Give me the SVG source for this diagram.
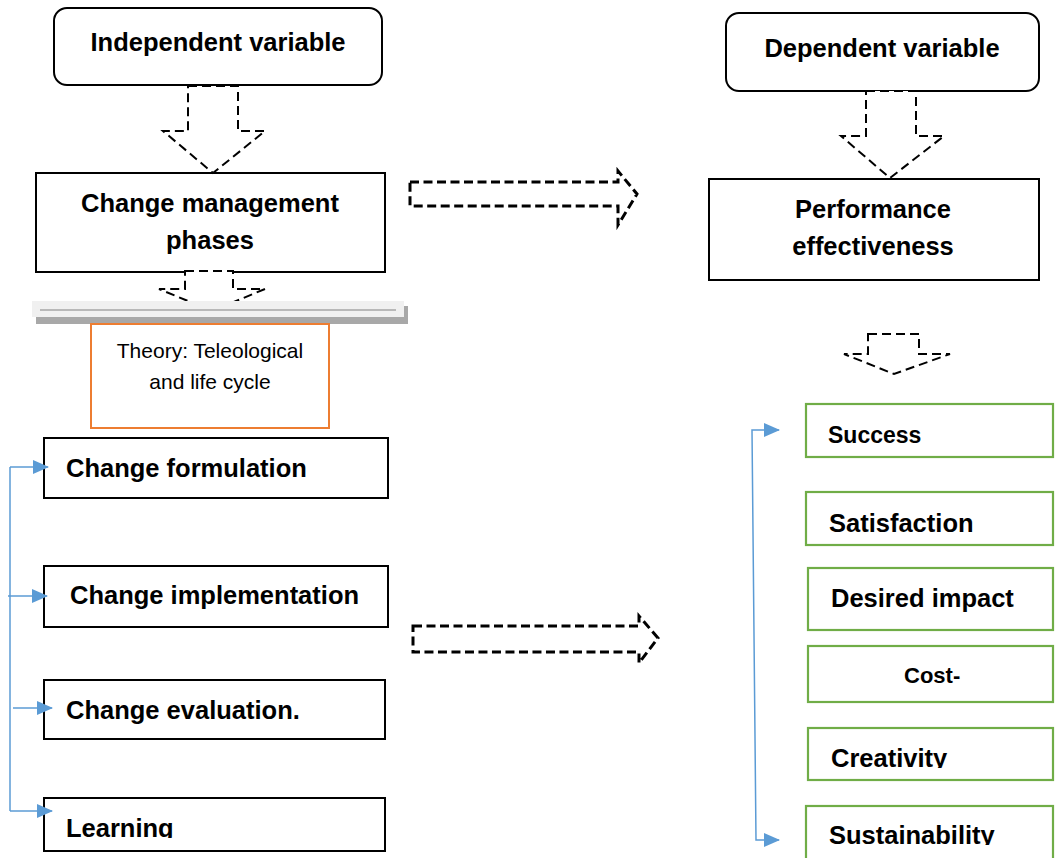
<svg xmlns="http://www.w3.org/2000/svg" width="1056" height="858" viewBox="0 0 1056 858">
<style>
  .box{fill:#fff;stroke:#000;stroke-width:2}
  .gbox{fill:#fff;stroke:#70AD47;stroke-width:2.2}
  .obox{fill:#fff;stroke:#ED7D31;stroke-width:2}
  .lbl{font-family:"Liberation Sans",Arial,sans-serif;font-weight:bold;font-size:25.5px;fill:#000}
  .reg{font-family:"Liberation Sans",Arial,sans-serif;font-size:21px;fill:#000}
  .dv{fill:#fff;stroke:#000;stroke-width:2;stroke-dasharray:9 5}
  .dh{fill:#fff;stroke:#000;stroke-width:3;stroke-dasharray:9 4.5}
  .blue{fill:none;stroke:#5B9BD5;stroke-width:1.5}
</style>
<defs>
  <marker id="tri" viewBox="0 0 16 14" refX="15" refY="7" markerWidth="16" markerHeight="14" markerUnits="userSpaceOnUse" orient="auto-start-reverse">
    <path d="M0,0 L16,7 L0,14 z" fill="#5B9BD5"/>
  </marker>
  <clipPath id="cLearn"><rect x="44" y="798" width="341" height="40"/></clipPath>
  <clipPath id="cCrea"><rect x="808" y="728" width="244" height="40"/></clipPath>
  <clipPath id="cSust"><rect x="806" y="806" width="246" height="39"/></clipPath>
</defs>
<rect width="1056" height="858" fill="#fff"/>

<g id="independent-variable">
  <rect class="box" x="54" y="8" width="328" height="77" rx="13"/>
  <text class="lbl" x="218" y="51" text-anchor="middle">Independent variable</text>
</g>
<g id="change-management-phases">
  <rect class="box" x="36" y="173" width="349" height="99"/>
  <text class="lbl" x="210" y="212" text-anchor="middle">Change management</text>
  <text class="lbl" x="210" y="249" text-anchor="middle">phases</text>
</g>
<g id="dependent-variable">
  <rect class="box" x="726" y="13" width="313" height="78" rx="13"/>
  <text class="lbl" x="882" y="57" text-anchor="middle">Dependent variable</text>
</g>
<g id="performance-effectiveness">
  <rect class="box" x="709" y="179" width="330" height="101"/>
  <text class="lbl" x="873" y="218" text-anchor="middle">Performance</text>
  <text class="lbl" x="873" y="255" text-anchor="middle">effectiveness</text>
</g>
<g id="change-formulation">
  <rect class="box" x="44" y="438" width="344" height="60"/>
  <text class="lbl" x="66" y="477">Change formulation</text>
</g>
<g id="change-implementation">
  <rect class="box" x="44" y="566" width="344" height="61"/>
  <text class="lbl" x="70" y="604">Change implementation</text>
</g>
<g id="change-evaluation">
  <rect class="box" x="44" y="680" width="341" height="59"/>
  <text class="lbl" x="66" y="719">Change evaluation.</text>
</g>
<g id="learning">
  <rect class="box" x="44" y="798" width="341" height="53"/>
  <text class="lbl" x="66" y="837" clip-path="url(#cLearn)">Learning</text>
</g>
<g id="success">
  <rect class="gbox" x="806" y="404" width="247" height="53"/>
  <text class="lbl" x="828" y="443" style="font-size:23px">Success</text>
</g>
<g id="satisfaction">
  <rect class="gbox" x="806" y="492" width="247" height="53"/>
  <text class="lbl" x="829" y="532">Satisfaction</text>
</g>
<g id="desired-impact">
  <rect class="gbox" x="808" y="568" width="245" height="62"/>
  <text class="lbl" x="831" y="607">Desired impact</text>
</g>
<g id="cost">
  <rect class="gbox" x="808" y="646" width="245" height="56"/>
  <text class="lbl" x="904" y="683" style="font-size:22px">Cost-</text>
</g>
<g id="creativity">
  <rect class="gbox" x="808" y="728" width="245" height="52"/>
  <text class="lbl" x="831" y="767" clip-path="url(#cCrea)">Creativity</text>
</g>
<g id="sustainability">
  <rect class="gbox" x="806" y="806" width="247" height="62"/>
  <text class="lbl" x="829" y="844" clip-path="url(#cSust)">Sustainability</text>
</g>

<g id="connectors">
  <polygon class="dv" points="188,86 238,86 238,131 265,131 213,173 163,131 188,131"/>
  <polygon class="dv" points="185,271 233,271 233,289 265,289 212,311 159,289 185,289"/>
  <polygon class="dv" points="866,91 916,91 916,136 944,136 890,178 841,136 866,136"/>
  <polygon class="dv" points="868,334 919,334 919,354 950,354 894,374 844,354 868,354"/>
  <polygon class="dh" points="410,182 618,182 618,171 637,194 618,225 618,206 410,206"/>
  <polygon class="dh" points="413,626 639,626 639,616 658,638 639,663 639,652 413,652"/>
  <path class="blue" d="M10,467 V811"/>
  <path class="blue" d="M10,467 H48" marker-end="url(#tri)"/>
  <path class="blue" d="M8,596 H47" marker-end="url(#tri)"/>
  <path class="blue" d="M13,708 H52" marker-end="url(#tri)"/>
  <path class="blue" d="M10,811 H52" marker-end="url(#tri)"/>
  <path class="blue" d="M779,430 H752 L756,840 H779" marker-start="url(#tri)" marker-end="url(#tri)"/>
</g>

<g id="divider-bar">
  <rect x="36" y="306" width="372" height="18" fill="#a8a8a8"/>
  <rect x="32" y="301" width="372" height="16" fill="#f0f0f0"/>
  <line x1="40" y1="310" x2="396" y2="310" stroke="#a6a6a6" stroke-width="1.6"/>
</g>

<g id="theory">
  <rect class="obox" x="91" y="324" width="238" height="104"/>
  <text class="reg" x="210" y="358" text-anchor="middle">Theory: Teleological</text>
  <text class="reg" x="210" y="389" text-anchor="middle">and life cycle</text>
</g>
</svg>
